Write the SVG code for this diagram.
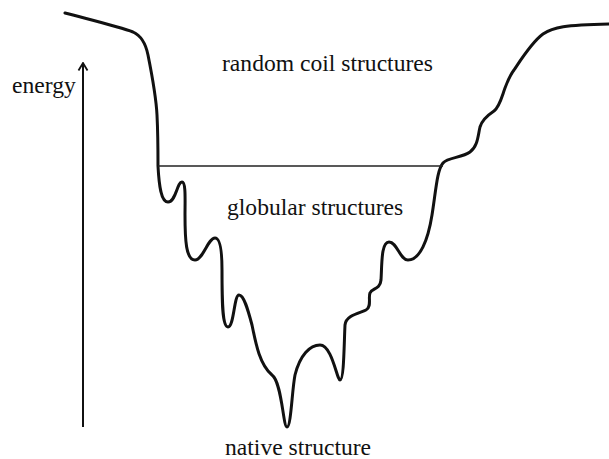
<svg xmlns="http://www.w3.org/2000/svg" width="609" height="459" viewBox="0 0 609 459">
  <style>
    .label { font-family: "Liberation Serif", "Times New Roman", serif; font-size: 23.6px; fill: #111; }
    .landscape { fill: none; stroke: #111; stroke-width: 3; stroke-linecap: round; stroke-linejoin: round; }
    .level { fill: none; stroke: #222; stroke-width: 1.3; }
    .axis { fill: none; stroke: #111; stroke-width: 2; }
  </style>
  <defs>
    <!-- open V head, tip on the +x axis so orient="auto" points it along the line -->
    <marker id="arrowhead" viewBox="0 0 12 12" refX="11" refY="6" markerWidth="12" markerHeight="12" markerUnits="userSpaceOnUse" orient="auto">
      <path d="M3.5,1.5 L11,6 L3.5,10.5" fill="none" stroke="#111" stroke-width="1.8"/>
    </marker>
  </defs>

  <rect width="609" height="459" fill="#fff"/>

  <!-- energy axis -->
  <g id="energy-axis">
    <line class="axis" x1="83" y1="427" x2="83" y2="63" marker-end="url(#arrowhead)"/>
    <text class="label" x="12" y="93">energy</text>
  </g>

  <!-- folding funnel profile -->
  <g id="funnel">
    <path class="landscape" d="M65,13
      C95,21 120,27 133,32
      C142,36 146,45 148,55
      C152,75 156,95 157,115
      C158,135 158,150 158,166
      C159,185 161,202 168,202
      C176,202 177,182 182,182
      C186,182 185,200 185,215
      C185,240 186,260 195,260
      C203,260 208,238 215,238
      C221,238 222,255 222,270
      C222,300 222,327 228,327
      C234,327 234,295 239,295
      C244,295 248,310 252,325
      C256,345 260,365 272,375
      C282,382 283,427 287,427
      C291,427 292,390 295,375
      C300,355 310,345 320,345
      C332,345 337,380 340,380
      C344,380 344,345 345,325
      C346,315 360,313 366,310
      C372,307 368,297 370,293
      C372,288 380,290 381,280
      C382,265 381,242 389,242
      C397,242 400,260 408,260
      C420,260 428,240 432,215
      C436,190 437,170 443,163
      C448,157 462,158 470,152
      C478,146 478,135 480,127
      C482,120 488,115 494,111
      C500,106 502,96 505,88
      C508,80 510,75 514,70
      C522,58 532,42 543,34
      C553,27 565,25 609,24"/>
    <line class="level" x1="158" y1="166" x2="443" y2="166"/>
  </g>

  <g id="random-coil">
    <text class="label" x="222" y="71">random coil structures</text>
  </g>
  <g id="globular">
    <text class="label" x="227" y="215">globular structures</text>
  </g>
  <g id="native">
    <text class="label" x="225" y="455">native structure</text>
  </g>
</svg>
